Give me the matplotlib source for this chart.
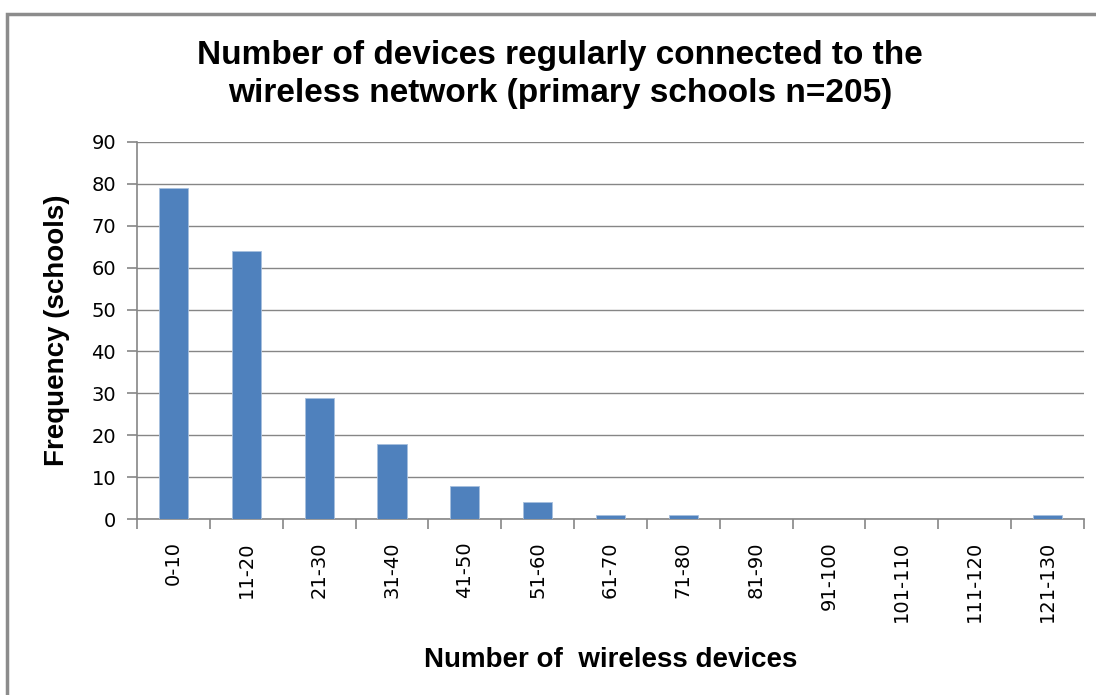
import matplotlib
matplotlib.use("Agg")
import matplotlib.pyplot as plt
from matplotlib.patches import Rectangle

# Data
categories = ['0-10', '11-20', '21-30', '31-40', '41-50', '51-60', '61-70',
              '71-80', '81-90', '91-100', '101-110', '111-120', '121-130']
frequency = [79, 64, 29, 18, 8, 4, 1, 1, 0, 0, 0, 0, 1]
y_ticks = [0, 10, 20, 30, 40, 50, 60, 70, 80, 90]

bar_color = '#4F81BD'
grid_color = '#868686'

fig = plt.figure(figsize=(10.96, 6.95), dpi=100)

# Grey chart frame (runs off the right and bottom edge like the screenshot)
fig.patches.append(Rectangle((7 / 1096, -0.05), 1.1, 1 - 14 / 695 + 0.05,
                             transform=fig.transFigure, fill=False,
                             edgecolor='#8C8C8C', linewidth=2.5))

ax = fig.add_axes([0.125, 0.2532, 0.864, 0.5425])

x = list(range(len(categories)))
ax.bar(x, frequency, width=0.4, color=bar_color, edgecolor='#A7BFDE',
       linewidth=0.6, zorder=3)

ax.set_xlim(-0.5, len(categories) - 0.5)
ax.set_ylim(0, 90)
ax.set_yticks(y_ticks)
ax.set_yticklabels([str(t) for t in y_ticks], fontsize=14,
                   family='DejaVu Sans')
ax.yaxis.grid(True, color=grid_color, linewidth=1.0, zorder=0)

# Category labels centred under bars, tick marks between categories
ax.set_xticks(x)
ax.set_xticklabels(categories, rotation=90, fontsize=14,
                   family='DejaVu Sans')
ax.tick_params(axis='x', length=0, pad=16)
ax.set_xticks([i - 0.5 for i in range(len(categories) + 1)], minor=True)
ax.tick_params(axis='x', which='minor', length=7, color=grid_color,
               direction='out', width=1.2)
ax.tick_params(axis='y', length=7, color=grid_color, direction='out',
               width=1.2, pad=8)

for side in ['top', 'right']:
    ax.spines[side].set_visible(False)
ax.spines['left'].set_color(grid_color)
ax.spines['bottom'].set_color(grid_color)
ax.spines['left'].set_linewidth(1.2)
ax.spines['bottom'].set_linewidth(1.2)

fig.text(0.511, 0.893,
         'Number of devices regularly connected to the\n'
         'wireless network (primary schools n=205)',
         ha='center', va='center', fontsize=24, fontweight='bold',
         family='Liberation Sans', linespacing=1.32)

fig.text(0.052, 0.525, 'Frequency (schools)', rotation=90, ha='center',
         va='center', fontsize=20, fontweight='bold', family='Liberation Sans')
fig.text(0.557, 0.05, 'Number of  wireless devices', ha='center',
         va='center', fontsize=20, fontweight='bold', family='Liberation Sans')

plt.savefig('out.png', dpi=100)
